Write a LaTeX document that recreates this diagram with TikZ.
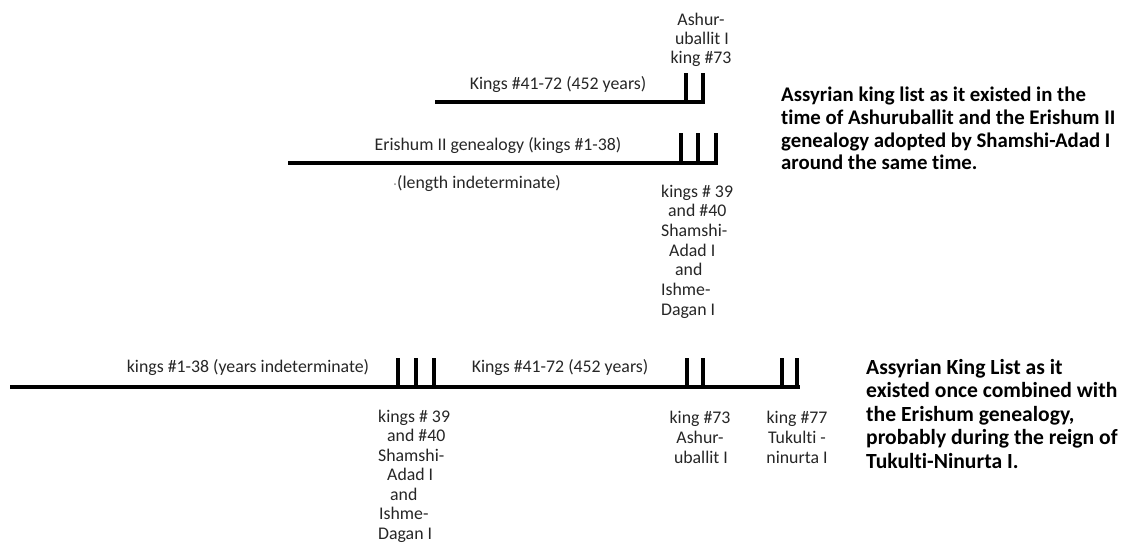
\documentclass[tikz,border=0pt]{standalone}
\usepackage{fontspec}
\setmainfont[Ligatures=NoCommon]{Carlito}
\begin{document}
\begin{tikzpicture}[x=1pt,y=-1pt,
  bar/.style={line width=3.6pt},
  tick/.style={line width=3.4pt},
  lbl/.style={font=\fontsize{17.8}{19}\selectfont, inner sep=0pt, anchor=base, text=black!85},
  lbll/.style={lbl, anchor=base west},
  note/.style={font=\bfseries\fontsize{21.6}{23}\selectfont, inner sep=0pt, anchor=base west},
  notetop/.style={note, font=\bfseries\fontsize{20.8}{23}\selectfont}]
\useasboundingbox[fill=white] (0,0) rectangle (1127,542);

% ---------- top group ----------
\coordinate (a1) at (435,102);
\coordinate (a2) at (704.5,102);
\draw[bar] (a1) -- (a2);
\foreach \x [count=\i] in {686,703}{
  \coordinate (at\i) at (\x,73);
  \coordinate (ab\i) at (\x,102);
  \draw[tick] (at\i) -- (ab\i);
}
\node[lbl] (k1) at (558,89) {Kings \#41-72 (452 years)};
\node[lbl] (as1) at (701,25) {Ashur-};
\node[lbl] (as2) at (702,44) {uballit I};
\node[lbl] (as3) at (701,63) {king \#73};

\coordinate (b1) at (288,163);
\coordinate (b2) at (717.5,163);
\draw[bar] (b1) -- (b2);
\foreach \x [count=\i] in {681,698,716}{
  \coordinate (bt\i) at (\x,133);
  \coordinate (bb\i) at (\x,163);
  \draw[tick] (bt\i) -- (bb\i);
}
\node[lbl] (er) at (498,150) {Erishum II genealogy (kings \#1-38)};
\fill[black!45] (395,184) circle (1pt);
\node[lbl] (li) at (479,188) {(length indeterminate)};

\foreach \o/\t [count=\i] in {0/{kings \# 39},7/{and \#40},0/{Shamshi-},8/{Adad I},14/{and},0/{Ishme-},0/{Dagan I}}{
  \node[lbll] (m\i) at (661+\o,197+19.7*\i-19.7) {\t};
}

\node[notetop] (n1) at (781,101) {Assyrian king list as it existed in the};
\node[notetop] (n2) at (781,124) {time of Ashuruballit and the Erishum II};
\node[notetop] (n3) at (781,147) {genealogy adopted by Shamshi-Adad I};
\node[notetop] (n4) at (781,169) {around the same time.};

% ---------- bottom group ----------
\coordinate (c1) at (10,387);
\coordinate (c2) at (800,387);
\draw[bar] (c1) -- (c2);
\foreach \x [count=\i] in {398,416,434,687,703,782,797}{
  \coordinate (ct\i) at (\x,358);
  \coordinate (cb\i) at (\x,387);
  \draw[tick] (ct\i) -- (cb\i);
}
\node[lbl] (k0) at (248,372) {kings \#1-38 (years indeterminate)};
\node[lbl] (k2) at (560,372) {Kings \#41-72 (452 years)};

\foreach \o/\t [count=\i] in {0/{kings \# 39},9/{and \#40},0/{Shamshi-},9/{Adad I},12/{and},1/{Ishme-},0/{Dagan I}}{
  \node[lbll] (s\i) at (378+\o,422+19.5*\i-19.5) {\t};
}

\node[lbl] (p1) at (700,423) {king \#73};
\node[lbl] (p2) at (700,443) {Ashur-};
\node[lbl] (p3) at (701,463) {uballit I};
\node[lbl] (q1) at (797,423) {king \#77};
\node[lbl] (q2) at (797,443) {Tukulti -};
\node[lbl] (q3) at (797,463) {ninurta I};

\node[note] (r1) at (866,374) {Assyrian King List as it};
\node[note] (r2) at (866,397.5) {existed once combined with};
\node[note] (r3) at (866,421) {the Erishum genealogy,};
\node[note] (r4) at (866,444.5) {probably during the reign of};
\node[note] (r5) at (866,468) {Tukulti-Ninurta I.};
\end{tikzpicture}
\end{document}
